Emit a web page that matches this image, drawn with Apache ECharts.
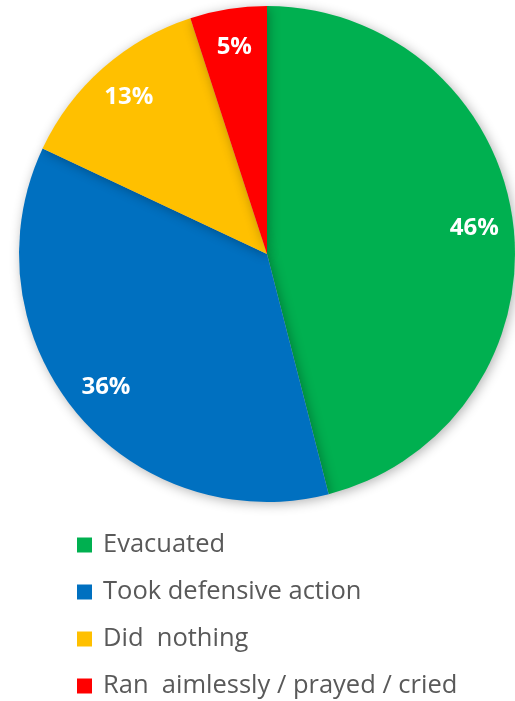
<!DOCTYPE html>
<html>
<head>
<meta charset="utf-8">
<script src="https://cdn.jsdelivr.net/npm/echarts@6/dist/echarts.min.js"></script>
<style>html,body{margin:0;padding:0;background:#fff}#c{width:515px;height:701px}</style>
</head>
<body>
<div id="c"></div>
<script>
const categories = ['Evacuated', 'Took defensive action', 'Did  nothing', 'Ran  aimlessly / prayed / cried'];
const values = [46, 36, 13, 5];
const colors = ['#00B050', '#0070C0', '#FFC000', '#FF0000'];

const chart = echarts.init(document.getElementById('c'), null, {renderer: 'canvas'});
const mainData = categories.map((n, i) => ({name: n, value: values[i], itemStyle: {color: colors[i]}}));
const labelData = categories.map((n, i) => ({name: n, value: values[i]}));
chart.setOption({
  animation: false,
  legend: {
    orient: 'vertical',
    left: 72,
    top: 526,
    height: 175,
    width: 440,
    icon: 'rect',
    itemWidth: 15,
    itemHeight: 15,
    itemGap: 19,
    data: categories,
    textStyle: {fontFamily: 'Open Sans', fontSize: 25.5, color: '#595959', lineHeight: 28, padding: [0, 0, 0, 6]}
  },
  series: [
    {
      type: 'pie',
      center: [267, 254],
      radius: [0, 248],
      startAngle: 90,
      clockwise: true,
      silent: true,
      label: {show: false},
      labelLine: {show: false},
      itemStyle: {shadowBlur: 12, shadowColor: 'rgba(0,0,0,0.3)', shadowOffsetX: 2, shadowOffsetY: 2},
      data: mainData
    },
    {
      type: 'pie',
      center: [267, 254],
      radius: [164, 248],
      startAngle: 90,
      clockwise: true,
      silent: true,
      legendHoverLink: false,
      itemStyle: {color: 'rgba(0,0,0,0)'},
      label: {
        show: true,
        position: 'inside',
        formatter: p => p.value + '%',
        color: '#fff',
        fontFamily: 'Open Sans',
        fontWeight: 'bold',
        fontSize: 24
      },
      labelLine: {show: false},
      data: labelData
    }
  ]
});
</script>
</body>
</html>
